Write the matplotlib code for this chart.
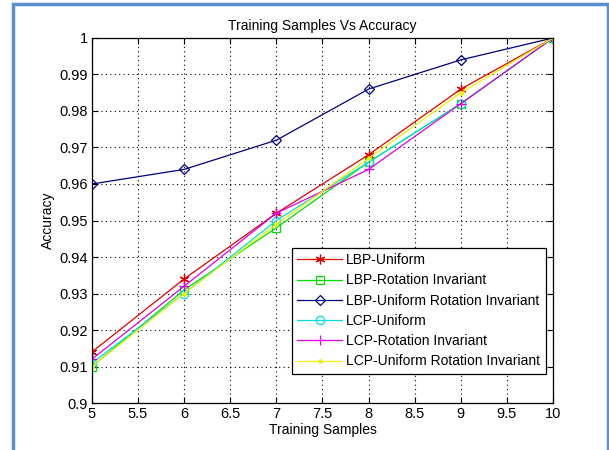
import matplotlib
matplotlib.use("Agg")
import matplotlib.pyplot as plt
from matplotlib.patches import Rectangle

plt.rcParams['font.family'] = ['Liberation Sans', 'DejaVu Sans']

samples = [5, 6, 7, 8, 9, 10]

lbp_uniform = [0.914, 0.934, 0.952, 0.968, 0.986, 1.0]
lbp_rot_inv = [0.910, 0.931, 0.948, 0.966, 0.982, 1.0]
lbp_uni_rot_inv = [0.960, 0.964, 0.972, 0.986, 0.994, 1.0]
lcp_uniform = [0.911, 0.930, 0.950, 0.966, 0.982, 1.0]
lcp_rot_inv = [0.912, 0.932, 0.952, 0.964, 0.982, 1.0]
lcp_uni_rot_inv = [0.910, 0.930, 0.949, 0.967, 0.985, 1.0]

# matlab style asterisk = 6 spokes
asterisk = (6, 2, 0)
series = [
    ("LBP-Uniform", lbp_uniform, "#e00000", asterisk, 7),
    ("LBP-Rotation Invariant", lbp_rot_inv, "#00e000", "s", 6),
    ("LBP-Uniform Rotation Invariant", lbp_uni_rot_inv, "#00007f", "D", 5),
    ("LCP-Uniform", lcp_uniform, "#00e0e0", "o", 6),
    ("LCP-Rotation Invariant", lcp_rot_inv, "#e000e0", "+", 7),
    ("LCP-Uniform Rotation Invariant", lcp_uni_rot_inv, "#f0f000", ".", 5),
]

fig = plt.figure(figsize=(6.09, 4.5), dpi=100)
ax = fig.add_axes([0.151, 0.1044, 0.757, 0.8112])

for label, vals, col, mk, ms in series:
    ax.plot(samples, vals, color=col, marker=mk, lw=0.9, ms=ms, mew=0.9,
            markerfacecolor='none' if mk in ('s', 'D', 'o') else col,
            markeredgecolor=col, label=label)

ax.set_xlim(5, 10)
ax.set_ylim(0.9, 1.0)
ax.set_xticks([5, 5.5, 6, 6.5, 7, 7.5, 8, 8.5, 9, 9.5, 10])
ax.set_xticklabels(['5', '5.5', '6', '6.5', '7', '7.5', '8', '8.5', '9', '9.5', '10'])
yt = [0.9, 0.91, 0.92, 0.93, 0.94, 0.95, 0.96, 0.97, 0.98, 0.99, 1.0]
ax.set_yticks(yt)
ax.set_yticklabels(['0.9', '0.91', '0.92', '0.93', '0.94', '0.95', '0.96',
                    '0.97', '0.98', '0.99', '1'])
ax.tick_params(direction='in', length=4, width=0.8, top=True, right=True,
               labelsize=10.5, pad=3)
ax.grid(True, color='black', linestyle=(0, (1, 3)), linewidth=0.8)
for s in ax.spines.values():
    s.set_linewidth(0.9)

ax.set_title("Training Samples Vs Accuracy", fontsize=10, pad=6)
ax.set_xlabel("Training Samples", fontsize=10, labelpad=1)
ax.set_ylabel("Accuracy", fontsize=10, labelpad=3)

leg = ax.legend(loc='lower right', bbox_to_anchor=(0.984, 0.0795), fontsize=10,
                handlelength=3.2, fancybox=False, framealpha=1, edgecolor='black',
                borderpad=0.4, labelspacing=0.45, handletextpad=0.3,
                borderaxespad=0)
leg.get_frame().set_linewidth(0.9)

# blue frame around the picture (bottom edge falls outside)
fig.patches.append(Rectangle((0.022, -0.05), 0.976, 1.041, transform=fig.transFigure,
                             fill=False, edgecolor='#5b8fd0', linewidth=2.5))

fig.savefig("out.png", dpi=100)
